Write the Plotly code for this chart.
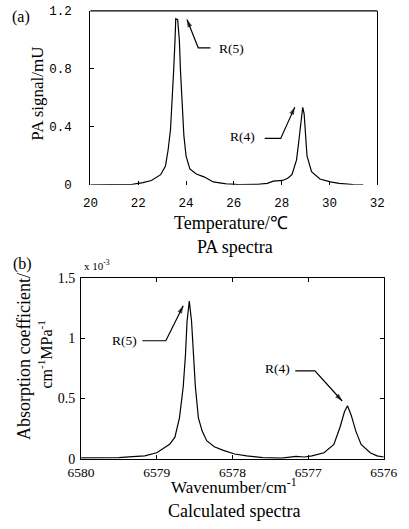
import plotly.graph_objects as go

W, H = 409, 529

# ---------------- data ----------------
# (a) PA spectra: temperature (degC) vs PA signal (mU)
temp_a = [20.0, 21.0, 21.75, 21.88, 22.2, 22.55, 22.94, 23.14, 23.25, 23.35, 23.42, 23.48,
          23.54, 23.57, 23.65, 23.72, 23.77, 23.85, 23.91, 24.0, 24.16, 24.43, 24.75, 25.14,
          25.68, 26.2, 27.0, 27.4, 27.65, 28.04, 28.25, 28.43, 28.62, 28.71, 28.78, 28.84,
          28.88, 28.94, 29.0, 29.06, 29.25, 29.6, 30.04, 30.4, 31.0, 31.41]
signal_a = [0, 0, 0.003, 0.007, 0.015, 0.03, 0.07, 0.13, 0.24, 0.38, 0.56, 0.78,
            1.0, 1.146, 1.14, 1.0, 0.78, 0.56, 0.34, 0.2, 0.11, 0.075, 0.055, 0.02,
            0.007, 0.002, 0.003, 0.01, 0.025, 0.03, 0.045, 0.07, 0.17, 0.29, 0.4, 0.52,
            0.535, 0.49, 0.36, 0.2, 0.09, 0.04, 0.02, 0.01, 0.002, 0]

# (b) Calculated spectra: wavenumber (cm-1) vs absorption coefficient (x1e-3)
wn_b = [6580.0, 6579.8, 6579.5, 6579.37, 6579.16, 6579.0, 6578.83, 6578.76, 6578.70,
        6578.65, 6578.62, 6578.60, 6578.57, 6578.54, 6578.51, 6578.49, 6578.45, 6578.40,
        6578.34, 6578.24, 6578.12, 6577.97, 6577.81, 6577.6, 6577.35, 6577.16, 6577.05,
        6576.95, 6576.79, 6576.66, 6576.58, 6576.52, 6576.48, 6576.43, 6576.37, 6576.30,
        6576.18, 6576.09, 6576.0]
absorb_b = [0.008, 0.008, 0.01, 0.016, 0.024, 0.05, 0.12, 0.18, 0.34,
            0.60, 0.87, 1.14, 1.31, 1.14, 0.87, 0.60, 0.34, 0.23,
            0.15, 0.10, 0.07, 0.04, 0.025, 0.01, 0.006, 0.02, 0.015,
            0.025, 0.05, 0.12, 0.26, 0.39, 0.44, 0.36, 0.23, 0.12,
            0.05, 0.025, 0.015]

xticks_a = [20, 22, 24, 26, 28, 30, 32]
yticks_a = [0, 0.4, 0.8, 1.2]
yticklabels_a = ["0", "0.4", "0.8", "1.2"]
xticks_b = [6580, 6579, 6578, 6577, 6576]
yticks_b = [0, 0.5, 1, 1.5]
yticklabels_b = ["0", "0.5", "1", "1.5"]

# annotation anchors (data coords): label, leader start, bend, tip
ann_a_r5 = dict(text="R(5)", tx=25.92, ty=0.94, x0=25.02, x1=24.51, yl=0.945, tipx=24.04, tipy=1.14)
ann_a_r4 = dict(text="R(4)", tx=26.35, ty=0.335, x0=27.29, x1=27.96, yl=0.32, tipx=28.55, tipy=0.536)
ann_b_r5 = dict(text="R(5)", tx=6579.42, ty=0.98, x0=6579.19, x1=6578.88, yl=0.98, tipx=6578.65, tipy=1.27)
ann_b_r4 = dict(text="R(4)", tx=6577.40, ty=0.75, x0=6577.17, x1=6576.91, yl=0.73, tipx=6576.55, tipy=0.48)

SERIF = "Liberation Serif, Times New Roman, serif"
MONO = "Liberation Mono, Courier New, monospace"


def px(x):
    return x / W


def py(y):
    return 1 - y / H


fig = go.Figure()
fig.add_trace(go.Scatter(x=temp_a, y=signal_a, mode="lines",
                         line=dict(color="black", width=1.2), xaxis="x", yaxis="y",
                         showlegend=False, hoverinfo="skip"))
fig.add_trace(go.Scatter(x=wn_b, y=absorb_b, mode="lines",
                         line=dict(color="black", width=1.2), xaxis="x2", yaxis="y2",
                         showlegend=False, hoverinfo="skip"))

# bent leader lines with arrowheads
annotations = []
for a, xr, yr in [(ann_a_r5, "x", "y"), (ann_a_r4, "x", "y"),
                  (ann_b_r5, "x2", "y2"), (ann_b_r4, "x2", "y2")]:
    fig.add_trace(go.Scatter(
        x=[a["x0"], a["x1"], a["tipx"]], y=[a["yl"], a["yl"], a["tipy"]],
        mode="lines+markers", xaxis=xr, yaxis=yr, showlegend=False, hoverinfo="skip",
        line=dict(color="black", width=1.2),
        marker=dict(symbol="arrow", angleref="previous", size=[0, 0, 8], color="black",
                    line=dict(width=0))))
    annotations.append(dict(x=a["tx"], y=a["ty"], xref=xr, yref=yr, text=a["text"],
                            showarrow=False, font=dict(family=SERIF, size=13.5, color="black")))

common_ax = dict(showgrid=False, zeroline=False, ticks="inside", ticklen=4,
                 tickcolor="black", tickwidth=1, linecolor="black", linewidth=1.2)

fig.update_layout(
    width=W, height=H, paper_bgcolor="white", plot_bgcolor="white",
    margin=dict(l=0, r=0, t=0, b=0), showlegend=False,
    xaxis=dict(domain=[px(82), px(390)], range=[20, 32], anchor="y",
               tickvals=xticks_a, showline=False, ticklabelstandoff=9,
               tickfont=dict(family=MONO, size=12.5, color="black"), **common_ax),
    yaxis=dict(domain=[py(183), py(4)], range=[0, 1.2], anchor="x",
               tickvals=yticks_a, ticktext=yticklabels_a, showline=True, mirror=True,
               ticklabelstandoff=15,
               tickfont=dict(family=MONO, size=12.5, color="black"), **common_ax),
    xaxis2=dict(domain=[px(72), px(397)], range=[6580, 6576], anchor="y2",
                tickvals=xticks_b, showline=True, mirror="ticks", ticklabelstandoff=1,
                tickformat="d",
                tickfont=dict(family=SERIF, size=13.5, color="black"), **common_ax),
    yaxis2=dict(domain=[py(465), py(279)], range=[0, 1.5], anchor="x2",
                tickvals=yticks_b, ticktext=yticklabels_b, showline=True, mirror="ticks",
                ticklabelstandoff=2,
                tickfont=dict(family=SERIF, size=14, color="black"), **common_ax),
)

# top frame line of panel (a)
fig.add_shape(type="line", xref="x domain", yref="y domain", x0=0, x1=1, y0=1, y1=1,
              line=dict(color="black", width=1.2))

texts = [
    ("(a)", 8, 10, 16, "center"),
    ("Temperature/℃", 233, 222, 18, "center"),
    ("PA spectra", 237, 247, 18, "center"),
    ("(b)", 9, 264, 16, "center"),
    ("x 10<sup>-3</sup>", 73, 266, 11, "left"),
    ("Wavenumber/cm<sup>-1</sup>", 236, 493, 17, "center"),
    ("Calculated spectra", 236, 519, 18, "center"),
]
for t, x, y, s, al in texts:
    annotations.append(dict(x=px(x), y=py(y), xref="paper", yref="paper", text=t,
                            xanchor=al, yanchor="middle", showarrow=False,
                            font=dict(family=SERIF, size=s, color="black")))

# rotated y titles
annotations.append(dict(x=px(25), y=py(89), xref="paper", yref="paper", text="PA signal/mU",
                        textangle=-90, showarrow=False, xanchor="center", yanchor="middle",
                        font=dict(family=SERIF, size=17, color="black")))
annotations.append(dict(x=px(11), y=py(360), xref="paper", yref="paper",
                        text="Absorption coefficient/", textangle=-90, showarrow=False,
                        xanchor="center", yanchor="middle",
                        font=dict(family=SERIF, size=18, color="black")))
annotations.append(dict(x=px(33), y=py(358), xref="paper", yref="paper",
                        text="cm<sup>-1</sup>MPa<sup>-1</sup>", textangle=-90, showarrow=False,
                        xanchor="center", yanchor="middle",
                        font=dict(family=SERIF, size=16, color="black")))

fig.update_layout(annotations=annotations)
fig.write_html("out.html")
